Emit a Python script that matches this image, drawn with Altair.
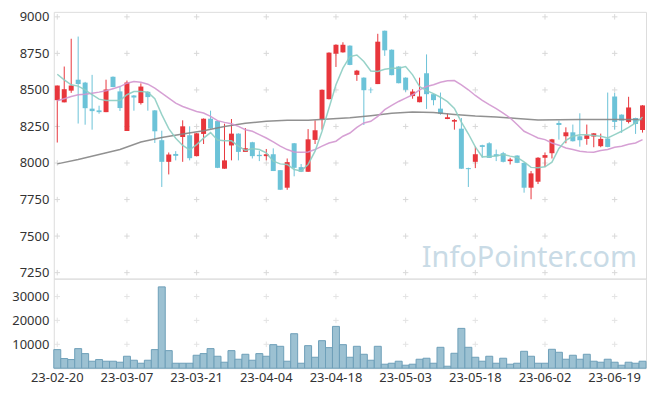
import altair as alt
import pandas as pd

dates = [
    "23-02-20", "23-02-21", "23-02-22", "23-02-23", "23-02-24", "23-02-27", "23-02-28",
    "23-03-02", "23-03-03", "23-03-06", "23-03-07", "23-03-08", "23-03-09", "23-03-10",
    "23-03-13", "23-03-14", "23-03-15", "23-03-16", "23-03-17", "23-03-20", "23-03-21",
    "23-03-22", "23-03-23", "23-03-24", "23-03-27", "23-03-28", "23-03-29", "23-03-30",
    "23-03-31", "23-04-03", "23-04-04", "23-04-05", "23-04-06", "23-04-07", "23-04-10",
    "23-04-11", "23-04-12", "23-04-13", "23-04-14", "23-04-17", "23-04-18", "23-04-19",
    "23-04-20", "23-04-21", "23-04-24", "23-04-25", "23-04-26", "23-04-27", "23-04-28",
    "23-05-02", "23-05-03", "23-05-04", "23-05-08", "23-05-09", "23-05-10", "23-05-11",
    "23-05-12", "23-05-15", "23-05-16", "23-05-17", "23-05-18", "23-05-19", "23-05-22",
    "23-05-23", "23-05-24", "23-05-25", "23-05-26", "23-05-30", "23-05-31", "23-06-01",
    "23-06-02", "23-06-05", "23-06-07", "23-06-08", "23-06-09", "23-06-12", "23-06-13",
    "23-06-14", "23-06-15", "23-06-16", "23-06-19", "23-06-20", "23-06-21", "23-06-22",
    "23-06-23",
]

opens = [8430, 8415, 8495, 8570, 8550, 8372, 8360, 8348, 8590, 8490,
         8219, 8462, 8410, 8487, 8360, 8156, 8008, 8062, 8178, 8190,
         8047, 8199, 8303, 8287, 7961, 8120, 8201, 8076, 8142, 8056,
         8047, 8060, 7951, 7831, 8135, 7972, 7940, 8158, 8301, 8437,
         8748, 8757, 8803, 8603, 8584, 8502, 8540, 8905, 8775, 8660,
         8584, 8458, 8416, 8614, 8471, 8372, 8301, 8283, 8235, 7965,
         8008, 8122, 8135, 8060, 8067, 8013, 8051, 8001, 7831, 7872,
         8036, 8067, 8274, 8183, 8210, 8183, 8165, 8181, 8115, 8167,
         8455, 8331, 8281, 8308, 8226]
highs = [8530, 8660, 8850, 8865, 8555, 8603, 8392, 8570, 8592, 8523,
         8564, 8465, 8545, 8490, 8362, 8221, 8072, 8081, 8292, 8251,
         8205, 8305, 8358, 8290, 8269, 8301, 8203, 8239, 8145, 8083,
         8096, 8100, 7952, 8031, 8137, 7993, 8232, 8292, 8503, 8757,
         8812, 8826, 8805, 8637, 8586, 8517, 8884, 8906, 8777, 8662,
         8586, 8505, 8584, 8743, 8473, 8482, 8338, 8301, 8308, 7968,
         8112, 8125, 8142, 8092, 8076, 8036, 8053, 8003, 7945, 8040,
         8072, 8165, 8290, 8244, 8263, 8340, 8263, 8205, 8201, 8482,
         8480, 8333, 8453, 8310, 8396]
lows = [8140, 8415, 8480, 8270, 8262, 8228, 8337, 8348, 8518, 8356,
        8219, 8358, 8400, 8358, 8137, 7836, 7922, 8018, 8008, 8018,
        8045, 8130, 8235, 7965, 7961, 8018, 8018, 8076, 8031, 8013,
        8018, 7945, 7815, 7817, 7909, 7938, 7940, 8130, 8228, 8435,
        8657, 8755, 8669, 8562, 8260, 8478, 8540, 8733, 8600, 8545,
        8487, 8440, 8415, 8370, 8395, 8330, 8300, 8228, 7960, 7836,
        7965, 8036, 8035, 8013, 8004, 7990, 7999, 7797, 7752, 7856,
        7972, 8031, 8160, 8135, 8147, 8112, 8125, 8108, 8108, 8108,
        8228, 8206, 8271, 8199, 8208]
closes = [8530, 8505, 8530, 8540, 8375, 8355, 8348, 8503, 8520, 8376,
          8551, 8448, 8523, 8451, 8217, 8008, 8058, 8049, 8251, 8033,
          8203, 8303, 8236, 7967, 8018, 8201, 8076, 8101, 8047, 8047,
          8060, 7945, 7817, 8006, 7967, 7940, 8162, 8224, 8501, 8755,
          8809, 8809, 8671, 8632, 8498, 8498, 8830, 8771, 8601, 8546,
          8501, 8489, 8455, 8471, 8430, 8337, 8313, 8294, 7961, 7958,
          8060, 8110, 8035, 8047, 8008, 8024, 8001, 7831, 7929, 8036,
          8054, 8162, 8260, 8210, 8149, 8156, 8190, 8203, 8165, 8110,
          8281, 8290, 8380, 8267, 8394]
volumes = [7790, 4040, 3620, 8200, 6110, 2920, 3620, 2920, 2920, 2500,
           5000, 3330, 2080, 3330, 7790, 34040, 7360, 2080, 2080, 2080,
           5420, 6110, 8200, 5000, 2500, 7360, 3750, 5830, 3330, 6110,
           5000, 9860, 9170, 2920, 14440, 2080, 9440, 4580, 11530, 8610,
           17500, 9860, 4580, 9170, 5830, 3330, 9170, 1670, 2080, 2920,
           1250, 1670, 3750, 4170, 2080, 8750, 830, 6250, 16670, 8750,
           4580, 2920, 5000, 2080, 4170, 1670, 2080, 7080, 5000, 2080,
           2080, 7920, 6670, 3750, 5420, 3750, 5830, 2920, 2500, 3750,
           2500, 1250, 2500, 2080, 2920]
ma_short = [8607, 8569, 8535, 8526, 8501, 8467, 8437, 8428, 8428, 8428,
            8467, 8489, 8489, 8485, 8440, 8331, 8235, 8170, 8120, 8090,
            8126, 8170, 8208, 8157, 8152, 8152, 8115, 8086, 8099, 8092,
            8069, 8013, 7994, 7990, 7956, 7945, 7990, 8081, 8217, 8376,
            8535, 8649, 8728, 8739, 8694, 8630, 8626, 8642, 8649, 8649,
            8660, 8603, 8523, 8495, 8475, 8450, 8420, 8374, 8280, 8200,
            8110, 8042, 8045, 8048, 8058, 8047, 8038, 8007, 7970, 7967,
            7974, 8006, 8100, 8155, 8183, 8194, 8194, 8188, 8183, 8171,
            8194, 8217, 8244, 8274, 8315]
ma_mid = [8426, 8440, 8455, 8467, 8471, 8478, 8485, 8494, 8508, 8523,
          8546, 8557, 8553, 8539, 8512, 8478, 8444, 8410, 8387, 8369,
          8353, 8342, 8319, 8290, 8278, 8269, 8251, 8228, 8217, 8194,
          8171, 8144, 8115, 8092, 8076, 8074, 8076, 8092, 8115, 8137,
          8149, 8183, 8205, 8244, 8274, 8285, 8319, 8365, 8394, 8421,
          8444, 8467, 8501, 8523, 8535, 8553, 8562, 8564, 8535, 8501,
          8462, 8428, 8399, 8372, 8342, 8308, 8263, 8217, 8194, 8171,
          8160, 8137, 8122, 8103, 8092, 8081, 8076, 8074, 8086, 8092,
          8108, 8115, 8128, 8137, 8160]
ma_long_idx = [0, 3, 6, 9, 12, 15, 18, 21, 24, 27, 30, 33, 36, 39, 42,
               45, 48, 51, 54, 57, 60, 63, 66, 69, 72, 75, 78, 81, 84]
ma_long = [7994, 8024, 8058, 8092, 8144, 8175, 8199, 8221, 8250, 8272,
           8285, 8292, 8292, 8301, 8310, 8324, 8340, 8349, 8346, 8332,
           8321, 8314, 8305, 8295, 8296, 8297, 8297, 8297, 8297]

price_ticks = [7250, 7500, 7750, 8000, 8250, 8500, 8750, 9000]
volume_ticks = [10000, 20000, 30000]
label_dates = dates[::10]
watermark = ["InfoPointer.com"]

UP = "#e8363c"
DOWN = "#6cc3d8"
FONT = "Noto Sans"

df = pd.DataFrame({
    "date": dates, "open": opens, "high": highs, "low": lows,
    "close": closes, "volume": volumes, "ma5": ma_short, "ma20": ma_mid,
})
df["dir"] = ["up" if c >= o else "down" for o, c in zip(opens, closes)]
df_long = pd.DataFrame({"date": [dates[i] for i in ma_long_idx], "ma": ma_long})

xscale = alt.Scale(domain=dates, paddingInner=0, paddingOuter=0)
x_price = alt.X("date:O", scale=xscale, axis=None)
x_vol = alt.X("date:O", scale=xscale, title=None,
              axis=alt.Axis(values=label_dates, labelAngle=0, ticks=False, domain=False,
                            labelPadding=3, labelFontSize=13, labelColor="#333",
                            labelFont=FONT, labelOverlap=False))
yscale = alt.Scale(domain=[7209, 9034], nice=False, zero=False)
color = alt.Color("dir:N", scale=alt.Scale(domain=["up", "down"], range=[UP, DOWN]), legend=None)


def price_axis():
    return alt.Axis(values=price_ticks, ticks=False, domain=False, grid=False, labelPadding=5,
                    labelFontSize=13, labelColor="#333", labelFont=FONT, format="d",
                    labelOverlap=False, labelSeparation=0, minExtent=40, maxExtent=40)


def vol_axis():
    return alt.Axis(values=volume_ticks, ticks=False, domain=False, grid=False, labelPadding=5,
                    labelFontSize=13, labelColor="#333", labelFont=FONT, format="d",
                    labelOverlap=False, labelSeparation=0, minExtent=40, maxExtent=40)


def py(field):
    return alt.Y(field, scale=yscale, axis=price_axis(), title=None)


plus = "M-1,0L1,0M0,-1L0,1"
grid_price = pd.DataFrame([(d, v) for d in label_dates for v in price_ticks], columns=["date", "v"])
grid_vol = pd.DataFrame([(d, v) for d in label_dates for v in volume_ticks], columns=["date", "v"])

g1 = alt.Chart(grid_price).mark_point(shape=plus, size=30, filled=False, stroke="#d9d9d9",
                                      strokeWidth=1, opacity=1).encode(x=x_price, y=py("v:Q"))
wm = alt.Chart(pd.DataFrame({"t": watermark})).mark_text(
    align="right", baseline="alphabetic", fontSize=29, font=FONT, color="#c9dbe6"
).encode(text="t:N", x=alt.value(586), y=alt.value(256))
wicks = alt.Chart(df).mark_rule(strokeWidth=1).encode(
    x=x_price, y=py("low:Q"), y2="high:Q", color=color)
bodies = alt.Chart(df).mark_bar(size=5).encode(
    x=x_price, y=py("open:Q"), y2="close:Q", color=color)
l_long = alt.Chart(df_long).mark_line(color="#858585", strokeWidth=1.5, opacity=0.9).encode(
    x=x_price, y=py("ma:Q"))
l_mid = alt.Chart(df).mark_line(color="#d296cf", strokeWidth=1.5, opacity=0.9).encode(
    x=x_price, y=py("ma20:Q"))
l_short = alt.Chart(df).mark_line(color="#8ccdc2", strokeWidth=1.5, opacity=0.9).encode(
    x=x_price, y=py("ma5:Q"))

price = alt.layer(g1, wm, wicks, bodies, l_long, l_mid, l_short).properties(width=595, height=268)

vscale = alt.Scale(domain=[0, 37500], nice=False)
g2 = alt.Chart(grid_vol).mark_point(shape=plus, size=30, filled=False, stroke="#d9d9d9",
                                    strokeWidth=1).encode(
    x=x_vol, y=alt.Y("v:Q", scale=vscale, axis=vol_axis(), title=None))
vbars = alt.Chart(df).mark_bar(fill="#9cc1d2", stroke="#6e9fb8", strokeWidth=1).encode(
    x=x_vol, y=alt.Y("volume:Q", scale=vscale, axis=vol_axis(), title=None))
volume = alt.layer(g2, vbars).properties(width=595, height=90)

chart = alt.vconcat(price, volume, spacing=0, bounds="flush").properties(
    padding={"left": 3, "top": 1, "right": 2, "bottom": 2}
).configure_view(stroke="#e3e3e3").configure_axis(labelOverlap=False).configure(background="white")

chart.save("out.html", embed_options={"renderer": "svg", "actions": False})
